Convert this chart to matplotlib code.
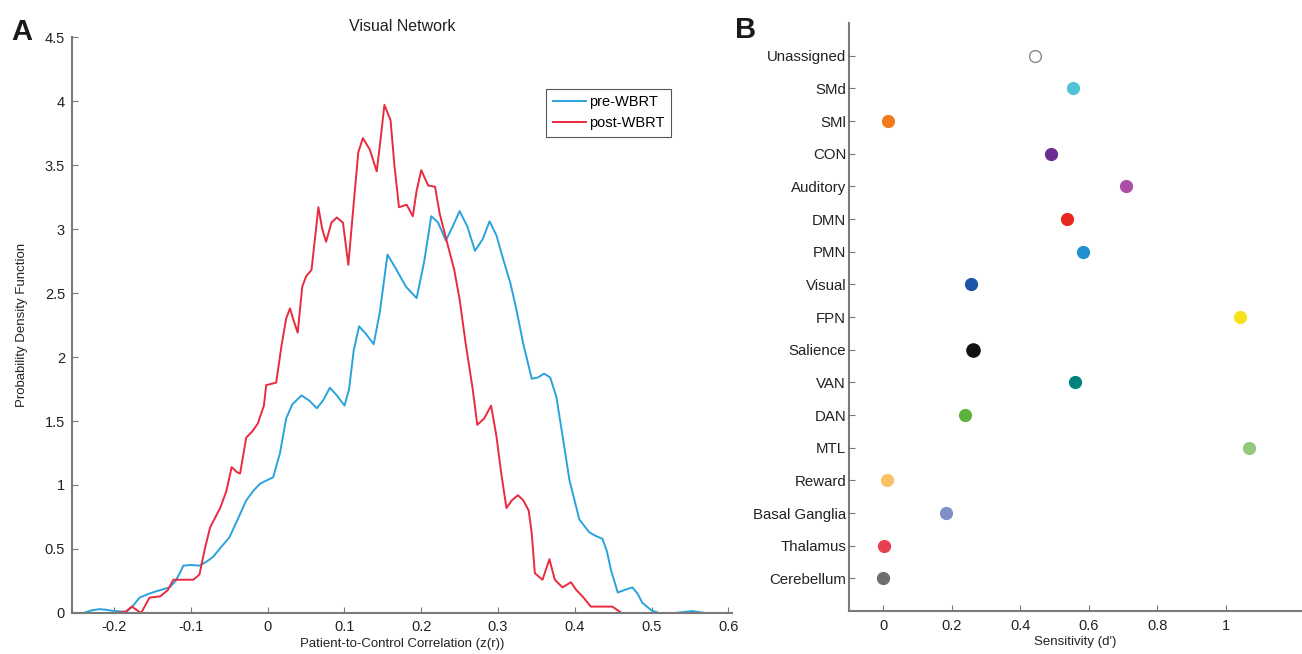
import matplotlib.pyplot as plt
import numpy as np

plt.rcParams['font.family'] = ['Liberation Sans', 'DejaVu Sans']

# panel A: density curves
blue_x = [-0.24, -0.23, -0.219, -0.21, -0.2, -0.184, -0.175, -0.167, -0.155, -0.145,
          -0.128, -0.12, -0.113, -0.11, -0.1, -0.089, -0.08, -0.071, -0.06, -0.05,
          -0.04, -0.028, -0.018, -0.01, 0.0, 0.007, 0.016, 0.024, 0.032, 0.044,
          0.054, 0.064, 0.072, 0.081, 0.09, 0.1, 0.106, 0.112, 0.119, 0.128,
          0.138, 0.146, 0.156, 0.166, 0.18, 0.194, 0.204, 0.213, 0.222, 0.232,
          0.241, 0.25, 0.26, 0.27, 0.28, 0.289, 0.298, 0.306, 0.316, 0.324,
          0.333, 0.344, 0.352, 0.36, 0.368, 0.376, 0.385, 0.393, 0.406, 0.419,
          0.428, 0.436, 0.442, 0.447, 0.456, 0.465, 0.475, 0.482, 0.488, 0.5,
          0.51, 0.53, 0.553, 0.57, 0.585]
blue_y = [0.0, 0.02, 0.03, 0.025, 0.015, 0.01, 0.06, 0.12, 0.15, 0.17,
          0.2, 0.25, 0.33, 0.37, 0.375, 0.37, 0.4, 0.44, 0.52, 0.59,
          0.72, 0.88, 0.96, 1.01, 1.04, 1.06, 1.25, 1.52, 1.63, 1.70,
          1.66, 1.60, 1.66, 1.76, 1.70, 1.62, 1.75, 2.05, 2.24, 2.18,
          2.10, 2.35, 2.80, 2.70, 2.55, 2.46, 2.75, 3.10, 3.05, 2.91,
          3.02, 3.14, 3.02, 2.83, 2.92, 3.06, 2.95, 2.78, 2.58, 2.37,
          2.10, 1.83, 1.84, 1.87, 1.84, 1.69, 1.35, 1.04, 0.73, 0.63,
          0.60, 0.58, 0.48, 0.34, 0.16, 0.18, 0.2, 0.15, 0.08, 0.02,
          0.0, 0.0, 0.015, 0.0, 0.0]

red_x = [-0.232, -0.2, -0.185, -0.177, -0.17, -0.165, -0.154, -0.14, -0.13, -0.123,
         -0.11, -0.097, -0.089, -0.082, -0.075, -0.062, -0.054, -0.047, -0.04, -0.036,
         -0.028, -0.02, -0.013, -0.005, -0.002, 0.011, 0.018, 0.024, 0.029, 0.034,
         0.039, 0.045, 0.05, 0.057, 0.062, 0.066, 0.071, 0.076, 0.083, 0.09,
         0.098, 0.105, 0.112, 0.118, 0.124, 0.133, 0.142, 0.147, 0.152, 0.16,
         0.165, 0.171, 0.181, 0.189, 0.194, 0.2, 0.209, 0.218, 0.224, 0.233,
         0.243, 0.25, 0.258, 0.267, 0.273, 0.282, 0.291, 0.298, 0.304, 0.311,
         0.318, 0.326, 0.333, 0.34, 0.344, 0.348, 0.358, 0.367, 0.374, 0.384,
         0.395, 0.402, 0.41, 0.421, 0.449, 0.461, 0.585]
red_y = [0.0, 0.0, 0.01, 0.05, 0.02, 0.0, 0.12, 0.13, 0.18, 0.26,
         0.26, 0.26, 0.3, 0.5, 0.67, 0.82, 0.95, 1.14, 1.1, 1.09,
         1.37, 1.42, 1.48, 1.62, 1.78, 1.8, 2.09, 2.3, 2.38, 2.28,
         2.19, 2.55, 2.63, 2.68, 2.95, 3.17, 3.0, 2.9, 3.05, 3.09,
         3.05, 2.72, 3.2, 3.6, 3.71, 3.62, 3.45, 3.7, 3.97, 3.85,
         3.5, 3.17, 3.19, 3.1, 3.3, 3.46, 3.34, 3.33, 3.12, 2.91,
         2.68, 2.45, 2.1, 1.75, 1.47, 1.52, 1.62, 1.38, 1.1, 0.82,
         0.88, 0.92, 0.88, 0.8, 0.62, 0.31, 0.26, 0.42, 0.26, 0.2,
         0.24, 0.18, 0.13, 0.05, 0.05, 0.0, 0.0]

# panel B: sensitivity per network (top to bottom)
networks = ['Unassigned', 'SMd', 'SMl', 'CON', 'Auditory', 'DMN', 'PMN', 'Visual',
            'FPN', 'Salience', 'VAN', 'DAN', 'MTL', 'Reward', 'Basal Ganglia',
            'Thalamus', 'Cerebellum']
sensitivity = [0.443, 0.554, 0.015, 0.49, 0.708, 0.536, 0.583, 0.257,
               1.041, 0.262, 0.56, 0.239, 1.067, 0.011, 0.184, 0.003, 0.0]
net_colors = ['white', '#52c3d6', '#f07a1c', '#6b2d90', '#ad4ea6', '#e8281e', '#1f8fce',
              '#1a55a6', '#f6e11a', '#111111', '#00827e', '#5bb33d', '#92c97a',
              '#f9c163', '#7f8fca', '#e8404e', '#6e6e6e']

axis_gray = '#7a7a7a'
txt = '#222222'

fig = plt.figure(figsize=(13.02, 6.54), dpi=100)

ax = fig.add_axes([0.0553, 0.0627, 0.507, 0.8807])
ax.plot(blue_x, blue_y, color='#2aa3dc', lw=1.4, label='pre-WBRT')
ax.plot(red_x, red_y, color='#ea2a3e', lw=1.4, label='post-WBRT')
ax.set_xlim(-0.255, 0.605)
ax.set_ylim(0, 4.5)
ax.set_xticks(np.arange(-0.2, 0.61, 0.1))
ax.set_xticklabels(['-0.2', '-0.1', '0', '0.1', '0.2', '0.3', '0.4', '0.5', '0.6'])
ax.set_yticks(np.arange(0, 4.51, 0.5))
ax.set_yticklabels(['0', '0.5', '1', '1.5', '2', '2.5', '3', '3.5', '4', '4.5'])
ax.set_title('Visual Network', fontsize=11.5, color=txt, pad=4)
ax.set_xlabel('Patient-to-Control Correlation (z(r))', fontsize=9.5, color=txt, labelpad=3)
ax.set_ylabel('Probability Density Function', fontsize=9.5, color=txt, labelpad=12)
leg = ax.legend(loc='upper left', bbox_to_anchor=(0.718, 0.91), fontsize=10.5,
                handlelength=2.3, handletextpad=0.2, borderpad=0.45,
                labelspacing=0.45, borderaxespad=0, fancybox=False, framealpha=1)
leg.get_frame().set_edgecolor('#555555')
leg.get_frame().set_linewidth(0.8)

ax2 = fig.add_axes([0.652, 0.0657, 0.348, 0.899])
ypos = np.arange(len(networks), 0, -1)
for y, v, c in zip(ypos, sensitivity, net_colors):
    ec = '#888888' if c == 'white' else c
    ms = 9.5 if c == '#111111' else 8.5
    ax2.plot(v, y, 'o', ms=ms, mfc=c, mec=ec, mew=1.0, clip_on=False)
ax2.set_xlim(-0.1, 1.222)
ax2.set_ylim(0, len(networks) + 1)
ax2.set_yticks(ypos)
ax2.set_yticklabels(networks)
ax2.set_xticks([0, 0.2, 0.4, 0.6, 0.8, 1])
ax2.set_xticklabels(['0', '0.2', '0.4', '0.6', '0.8', '1'])
ax2.set_xlabel("Sensitivity (d')", fontsize=9.5, color=txt, labelpad=2)

for a in (ax, ax2):
    for s in ('top', 'right'):
        a.spines[s].set_visible(False)
    for s in ('left', 'bottom'):
        a.spines[s].set_color(axis_gray)
        a.spines[s].set_linewidth(1.5)
    a.tick_params(direction='in', length=4, width=0.8, color=axis_gray,
                  labelcolor=txt, labelsize=10.5, pad=5)

ax2.tick_params(axis='y', labelsize=10.8, pad=2)
ax2.tick_params(axis='x', pad=6)

fig.text(0.017, 0.951, 'A', fontsize=21, fontweight='bold', color='#1a1a1a', va='center', ha='center')
fig.text(0.573, 0.954, 'B', fontsize=21, fontweight='bold', color='#1a1a1a', va='center', ha='center')

fig.savefig('out.png', dpi=100)
